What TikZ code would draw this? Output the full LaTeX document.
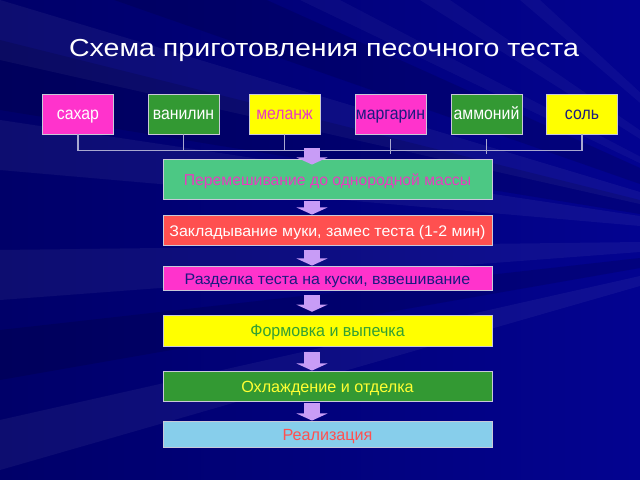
\documentclass[tikz,border=0pt]{standalone}
\usepackage{fontspec}
\setmainfont{Liberation Sans}
\newfontfamily\titlefont[FakeStretch=1.16]{Liberation Sans}
\newfontfamily\narrowfont[FakeStretch=0.9]{Liberation Sans}
\newfontfamily\widefont[FakeStretch=1.04]{Liberation Sans}
\newfontfamily\bakefont[FakeStretch=0.95]{Liberation Sans}
\usetikzlibrary{arrows.meta}

\definecolor{bgnavy}{HTML}{00007A}
\definecolor{bgdeep}{HTML}{000058}
\definecolor{bgbright}{HTML}{0808A8}
\definecolor{boxline}{HTML}{C8C8D8}
\definecolor{busline}{HTML}{A8A8D0}
\definecolor{flowarrow}{HTML}{C89CF6}
\definecolor{pinkfill}{HTML}{FF33CC}
\definecolor{greenfill}{HTML}{339933}
\definecolor{yellowfill}{HTML}{FFFF00}
\definecolor{mintfill}{HTML}{4CC884}
\definecolor{redfill}{HTML}{FF5050}
\definecolor{skyfill}{HTML}{87CEEB}
\definecolor{inknavy}{HTML}{1A1A80}
\definecolor{inkpink}{HTML}{E83CC0}
\definecolor{inkgreen}{HTML}{33A033}
\definecolor{inkyellow}{HTML}{FFFF33}
\definecolor{inkred}{HTML}{FF5050}

\begin{document}
\begin{tikzpicture}[
    x=0.025cm, y=-0.025cm,
    item/.style={draw=boxline, line width=0.6pt, minimum width=1.775cm,
      minimum height=1cm, inner sep=0pt, text height=0.9em, text depth=0.06em,
      font=\narrowfont\fontsize{12.5}{15}\selectfont},
    stage/.style={draw=boxline, line width=0.6pt, minimum width=8.225cm,
      inner sep=0pt, text height=0.9em, text depth=0.04em},
    bus/.style={draw=busline, line width=0.9pt},
    flow/.style={draw=flowarrow, line width=0.375cm,
      -{Triangle[width=0.78cm,length=0.18cm]}},
  ]

  % Background with rays
  \useasboundingbox (0,0) rectangle (640,480);
  \shade[left color=bgdeep, right color=bgbright] (0,0) rectangle (640,480);
  \fill[bgnavy, opacity=0.5] (0,0) rectangle (640,480);
  \foreach \a/\b in {0/60, 120/170, 250/300, 420/470}
    \fill[white, opacity=0.05] (800,240) -- (0,\a) -- (0,\b) -- cycle;
  \foreach \a/\b in {-120/-40, 40/110, 330/380}
    \fill[black, opacity=0.12] (800,240) -- (0,\a) -- (0,\b) -- cycle;
  \foreach \a/\b in {300/340, 420/450, 520/540}
    \fill[white, opacity=0.04] (800,240) -- (\a,0) -- (\b,0) -- cycle;

  % Title
  \node[text=white, font=\titlefont\fontsize{17.5}{20}\selectfont] (title) at (324,50)
    {Схема приготовления песочного теста};

  % Ingredients
  \foreach \n/\x/\c/\t/\s in {sugar/78/pinkfill/white/сахар,
      vanilla/183.5/greenfill/white/ванилин,
      melange/284.5/yellowfill/inkpink/меланж,
      margarine/390.5/pinkfill/inknavy/маргарин,
      ammonium/486.5/greenfill/white/аммоний,
      salt/582/yellowfill/inknavy/соль}{
      \node[item, fill=\c, text=\t] (\n) at (\x,114) {\s};
    }

  % Collecting line
  \draw[bus] (sugar.south) -- ++(0,16) -| (salt.south);
  \foreach \n in {vanilla,melange}
  \draw[bus] (\n.south) -- ++(0,16);
  \foreach \n in {margarine,ammonium}
  \draw[bus] (\n.south) ++(0,5) -- ++(0,15);

  % Stages
  \node[stage, fill=mintfill, text=inkpink, minimum height=1cm,
    font=\fontsize{11.2}{13}\selectfont] (mix) at (327.5,179)
    {Перемешивание до однородной массы};
  \node[stage, fill=redfill, text=white, minimum height=0.75cm,
    font=\widefont\fontsize{10.9}{13}\selectfont] (knead) at (327.5,230)
    {Закладывание муки, замес теста (1-2 мин)};
  \node[stage, fill=pinkfill, text=inknavy, minimum height=0.6cm,
    font=\widefont\fontsize{10.9}{13}\selectfont] (divide) at (327.5,278)
    {Разделка теста на куски, взвешивание};
  \node[stage, fill=yellowfill, text=inkgreen, minimum height=0.775cm,
    font=\bakefont\fontsize{12}{14}\selectfont] (bake) at (327.5,330.5)
    {Формовка и выпечка};
  \node[stage, fill=greenfill, text=inkyellow, minimum height=0.75cm,
    font=\fontsize{11.5}{13}\selectfont] (cool) at (327.5,386)
    {Охлаждение и отделка};
  \node[stage, fill=skyfill, text=inkred, minimum height=0.65cm,
    font=\fontsize{11.5}{13}\selectfont] (sell) at (327.5,434)
    {Реализация};

  % Arrows
  \coordinate (feed) at (312,148);
  \draw[flow, shorten >=-0.15cm] (feed) -- (mix.north -| feed);
  \draw[flow, shorten <=0.03cm] (mix.south -| feed) -- (knead.north -| feed);
  \draw[flow, shorten <=0.12cm] (knead.south -| feed) -- (divide.north -| feed);
  \draw[flow, shorten <=0.12cm, shorten >=0.07cm] (divide.south -| feed) -- (bake.north -| feed);
  \draw[flow, shorten <=0.15cm] (bake.south -| feed) -- (cool.north -| feed);
  \draw[flow, shorten <=0.05cm] (cool.south -| feed) -- (sell.north -| feed);

\end{tikzpicture}
\end{document}
